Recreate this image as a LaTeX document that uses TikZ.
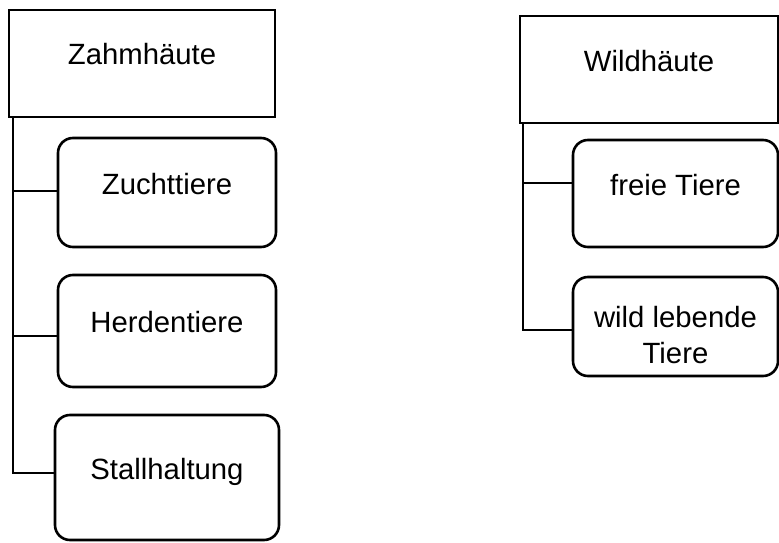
\documentclass[tikz,border=0pt]{standalone}
\usepackage{fontspec}
\setmainfont{Liberation Sans}
\tikzset{
  hautbox/.style={draw,line width=2.6pt,inner sep=0pt,text height=21pt,text depth=18pt,font=\fontsize{29.3}{36}\selectfont},
  artbox/.style={hautbox,rounded corners=15pt,align=center},
  ast/.style={line width=2.6pt}
}
\begin{document}
\begin{tikzpicture}[x=1pt,y=1pt]
\useasboundingbox (0,0) rectangle (779,-543);

% Zahmhaeute
\node[hautbox,minimum width=266pt,minimum height=107pt] (zahm) at (142,-63.5) {Zahmhäute};
\node[artbox,minimum width=218pt,minimum height=109pt] (zucht) at (167,-192.5) {Zuchttiere};
\node[artbox,minimum width=218pt,minimum height=112pt] (herde) at (167,-331) {Herdentiere};
\node[artbox,minimum width=224pt,minimum height=125pt] (stall) at (167,-477.5) {Stallhaltung};
\coordinate (ztrunk) at (13,-117);
\draw[ast] (ztrunk) |- ([yshift=4.5pt]stall.west);
\foreach \n/\dy in {zucht/1.5,herde/-5}
{\draw[ast] ([yshift=\dy pt]\n.west) -- ([yshift=\dy pt]\n.west -| ztrunk);}

% Wildhaeute
\node[hautbox,minimum width=258pt,minimum height=107pt] (wild) at (649,-69.5) {Wildhäute};
\node[artbox,minimum width=205pt,minimum height=107pt] (frei) at (675.5,-193.5) {freie Tiere};
\node[artbox,text height=73pt,text depth=0pt,minimum width=205pt,minimum height=99pt] (lebend) at (675.5,-326.5) {wild lebende\\Tiere};
\coordinate (wtrunk) at (523,-123);
\draw[ast] (wtrunk) |- ([yshift=-3.5pt]lebend.west);
\draw[ast] ([yshift=10.5pt]frei.west) -- ([yshift=10.5pt]frei.west -| wtrunk);
\end{tikzpicture}
\end{document}
